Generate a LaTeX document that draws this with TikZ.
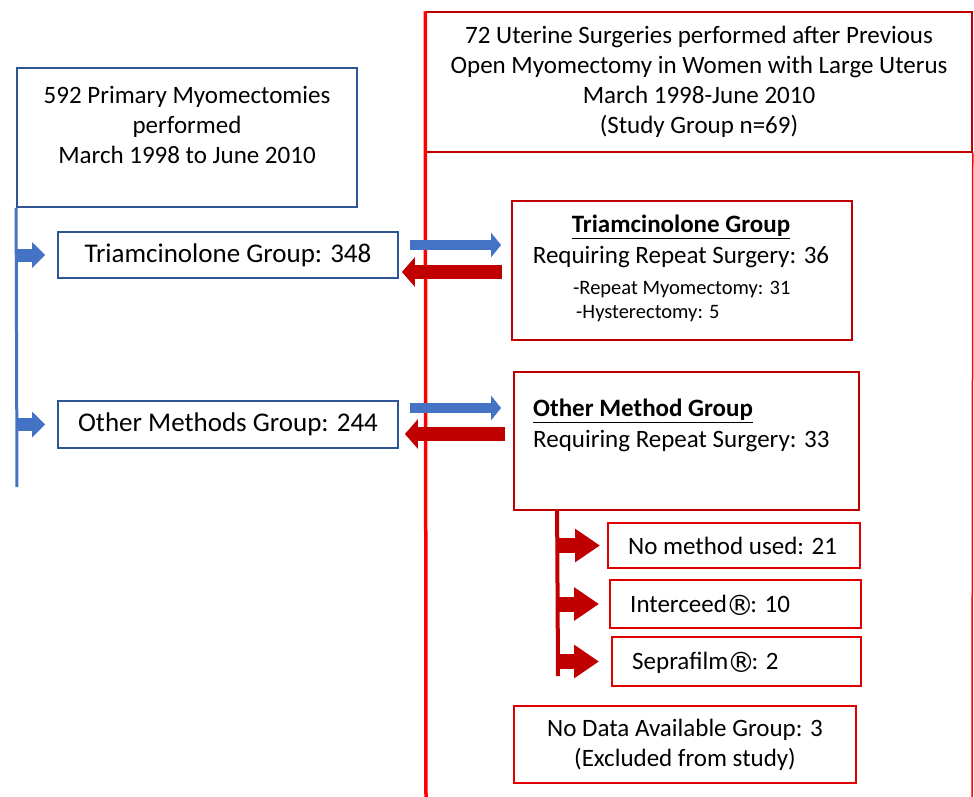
\documentclass[tikz,border=0pt]{standalone}
\usepackage{fontspec}
\setmainfont{Carlito}
\newfontfamily\symfont{DejaVu Sans}
\usetikzlibrary{arrows.meta,calc}
\definecolor{bbox}{HTML}{2F5597}
\definecolor{bfill}{HTML}{4472C4}
\definecolor{dred}{HTML}{C00000}
\definecolor{bred}{HTML}{FF0000}
\definecolor{mred}{HTML}{E00000}
\newcommand{\regmark}{\kern-1pt\raisebox{-2.5pt}{\symfont\fontsize{28}{28}\selectfont ®}\kern-3.5pt}
\newcommand{\mainsize}{\fontsize{25}{30}\selectfont}
\newcommand{\bigsize}{\fontsize{27}{30}\selectfont}
\newcommand{\smallsize}{\fontsize{20.5}{25}\selectfont}
\begin{document}
\begin{tikzpicture}[x=1pt,y=-1pt,
  box/.style={draw, line width=1.8pt, minimum width=#1, inner sep=0pt, anchor=center},
  bluebox/.style={box=#1, draw=bbox},
  redbox/.style={box=#1, draw=dred},
  sredbox/.style={box=#1, draw=mred},
  txt/.style={inner sep=0pt, font=\mainsize, align=center},
  stxt/.style={inner sep=0pt, font=\smallsize, align=left},
  blarrow/.style={draw=bfill, line width=10pt, -{Triangle[length=10pt,width=24pt]}},
  sblarrow/.style={draw=bfill, line width=13pt, -{Triangle[length=13pt,width=25pt]}},
  rdarrow/.style={draw=dred, line width=14pt, -{Triangle[length=13pt,width=29pt]}},
  brarrow/.style={draw=dred, line width=15pt, -{Triangle[length=25pt,width=32pt]}}
]
\useasboundingbox (0,0) rectangle (974,796);

% ---- right frame ----
\node[box=546pt, draw=dred, line width=1.5pt, minimum height=140pt] (topR) at (699,82)
  [txt] {72 Uterine Surgeries performed after Previous\\Open Myomectomy in Women with Large Uterus\\March 1998-June 2010\\(Study Group n=69)};
\coordinate (frBL) at (426,800);
\coordinate (frBR) at (972,800);
\draw[bred, line width=3.5pt] (topR.north west) -- (frBL);
\draw[bred, line width=1.5pt] (topR.south east) -- (frBR);

% ---- left side ----
\node[bluebox=340pt, minimum height=139pt] (lefttop) at (187,137.5) {};
\node[txt] (lefttoptxt) at (187,124.5) {592 Primary Myomectomies\\performed\\March 1998 to June 2010};
\node[bluebox=340pt, minimum height=46pt, font=\bigsize] (tri348) at (228,255) {Triamcinolone Group: 348};
\node[bluebox=340pt, minimum height=47pt, font=\bigsize] (oth244) at (228,424.5) {Other Methods Group: 244};
\coordinate (spL) at (17,487);
\draw[bfill, line width=3pt] (lefttop.south west) -- (spL);
\draw[sblarrow] (lefttop.south west |- tri348.west) -- ($(tri348.west)+(-12,0)$);
\draw[sblarrow] (lefttop.south west |- oth244.west) -- ($(oth244.west)+(-12,0)$);

% ---- right boxes ----
\node[redbox=340pt, minimum height=139pt] (triR) at (682,270.5) {};
\node[txt] (triRh) at (681,227) {\textbf{\underline{Triamcinolone Group}}};
\node[txt] (triR1) at (681,257) {Requiring Repeat Surgery: 36};
\node[stxt, anchor=west] (triR2) at (573,289) {-Repeat Myomectomy: 31};
\node[stxt, anchor=west] (triR3) at (576,314) {-Hysterectomy: 5};

\node[redbox=345pt, minimum height=138pt] (othR) at (686.5,441) {};
\node[txt, anchor=west] (othRh) at (533,411) {\textbf{\underline{Other Method Group}}};
\node[txt, anchor=west] (othR1) at (533,441) {Requiring Repeat Surgery: 33};

% ---- arrows between groups ----
\draw[blarrow] ($(tri348.east)+(11,-10)$) -- ($(triR.west)+(-10,-25.5)$);
\draw[rdarrow] ($(triR.west)+(-9,1.5)$) -- ($(tri348.east)+(3,17)$);
\draw[blarrow] ($(oth244.east)+(11,-16.5)$) -- ($(othR.west)+(-12,-33)$);
\draw[rdarrow] ($(othR.west)+(-8,-7)$) -- ($(oth244.east)+(6,9.5)$);

% ---- sub groups ----
\node[sredbox=252pt, minimum height=45pt] (nometh) at (734,545.5) {};
\node[txt, anchor=west] (nomethtxt) at (628,546) {No method used: 21};
\node[sredbox=251pt, minimum height=48pt] (interc) at (735.5,604) {};
\node[txt, anchor=west] (interctxt) at (630,605) {Interceed\regmark: 10};
\node[sredbox=249pt, minimum height=49pt] (sepra) at (736.5,661.5) {};
\node[txt, anchor=west] (sepratxt) at (632,663) {Seprafilm\regmark: 2};

\coordinate (spBtop) at ($(othR.south west)+(44,0)$);
\coordinate (spB) at (558,676);
\draw[dred, line width=4pt] (spBtop) -- (spB);
\coordinate (r1) at (spB |- nometh.west);
\coordinate (r2) at (spB |- interc.west);
\coordinate (r3) at (spB |- sepra.west);
\draw[brarrow] (r1) -- ++(42,0);
\draw[brarrow] (r2) -- ++(41,0);
\draw[brarrow] (r3) -- ++(41,0);

\node[sredbox=342pt, minimum height=77pt, font=\mainsize, align=center] (nodata) at (685,744.5) {No Data Available Group: 3\\(Excluded from study)};
\end{tikzpicture}
\end{document}
